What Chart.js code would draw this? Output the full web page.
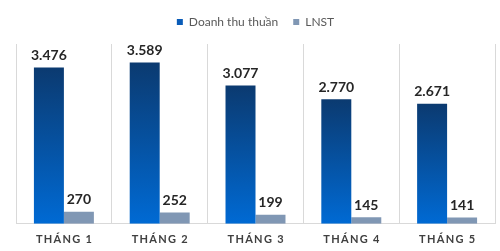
<!DOCTYPE html>
<html>
<head>
<meta charset="utf-8">
<script src="https://cdn.jsdelivr.net/npm/chart.js@4"></script>
<style>
html,body{margin:0;padding:0;background:#fff;}
#wrap{width:500px;height:251px;position:relative;}
</style>
</head>
<body>
<div id="wrap"><canvas id="c"></canvas></div>
<script>
const categories = ["THÁNG 1", "THÁNG 2", "THÁNG 3", "THÁNG 4", "THÁNG 5"];
const revenue = [3476, 3589, 3077, 2770, 2671];
const profit = [270, 252, 199, 145, 141];
const seriesNames = ["Doanh thu thuần", "LNST"];

function fmt(v){
  return String(v).replace(/\B(?=(\d{3})+(?!\d))/g, ".");
}

function blueGradient(ctx){
  const ch = ctx.chart;
  const area = ch.chartArea;
  if(!area || ctx.raw === undefined) return '#0a5cb8';
  const y = ch.scales.y;
  const top = y.getPixelForValue(ctx.raw);
  const bot = y.getPixelForValue(0);
  const g = ch.ctx.createLinearGradient(0, top, 0, bot);
  g.addColorStop(0, '#0b3a70');
  g.addColorStop(1, '#006ad4');
  return g;
}

const legendSpace = {
  id: 'legendSpace',
  beforeInit(chart){
    const lg = chart.legend;
    if(!lg) return;
    const orig = lg.fit;
    lg.fit = function(){ orig.call(this); this.height += 6; };
  }
};

const labelPlugin = {
  id: 'labels',
  afterDatasetsDraw(chart){
    const ctx = chart.ctx;
    ctx.save();
    ctx.font = 'bold 14px Lato';
    ctx.fillStyle = '#262626';
    ctx.textAlign = 'center';
    ctx.textBaseline = 'bottom';
    chart.data.datasets.forEach((ds, di) => {
      const meta = chart.getDatasetMeta(di);
      meta.data.forEach((bar, i) => {
        ctx.fillText(fmt(ds.data[i]), bar.x, bar.y - 5);
      });
    });
    const xs = chart.scales.x;
    ctx.font = 'bold 11px Lato';
    ctx.fillStyle = '#404040';
    ctx.textBaseline = 'middle';
    try { ctx.letterSpacing = '1.3px'; } catch(e) {}
    categories.forEach((c, i) => {
      const x = xs.getPixelForValue(i);
      ctx.fillText(c, x + 0.65, chart.chartArea.bottom + 16);
    });
    ctx.restore();
  }
};

new Chart(document.getElementById('c'), {
  type: 'bar',
  data: {
    labels: categories,
    datasets: [
      { label: seriesNames[0], data: revenue, backgroundColor: blueGradient, borderWidth: 0,
        barPercentage: 1, categoryPercentage: 0.626 },
      { label: seriesNames[1], data: profit, backgroundColor: '#8097b4', borderWidth: 0,
        barPercentage: 1, categoryPercentage: 0.626 }
    ]
  },
  options: {
    responsive: true,
    maintainAspectRatio: false,
    animation: false,
    layout: { padding: { left: 16, right: 5, top: 1, bottom: 0 } },
    plugins: {
      legend: {
        display: true,
        position: 'top',
        labels: {
          boxWidth: 6, boxHeight: 6, padding: 15,
          color: '#595959',
          font: { family: 'Lato', size: 12 },
          generateLabels(chart){
            return chart.data.datasets.map((ds, i) => ({
              text: ds.label,
              fillStyle: i === 0 ? '#0a5cb8' : '#8097b4',
              strokeStyle: 'rgba(0,0,0,0)',
              lineWidth: 0,
              fontColor: '#595959',
              datasetIndex: i
            }));
          }
        }
      },
      tooltip: { enabled: false }
    },
    scales: {
      x: {
        offset: true,
        grid: { display: true, offset: true, color: '#d9d9d9', drawTicks: false, lineWidth: 1 },
        border: { display: true, color: '#d9d9d9' },
        ticks: { color: 'rgba(0,0,0,0)', font: { family: 'Lato', size: 11, weight: 'bold' }, padding: 7 }
      },
      y: {
        display: false,
        min: 0,
        max: 4000
      }
    }
  },
  plugins: [legendSpace, labelPlugin]
});
</script>
</body>
</html>
